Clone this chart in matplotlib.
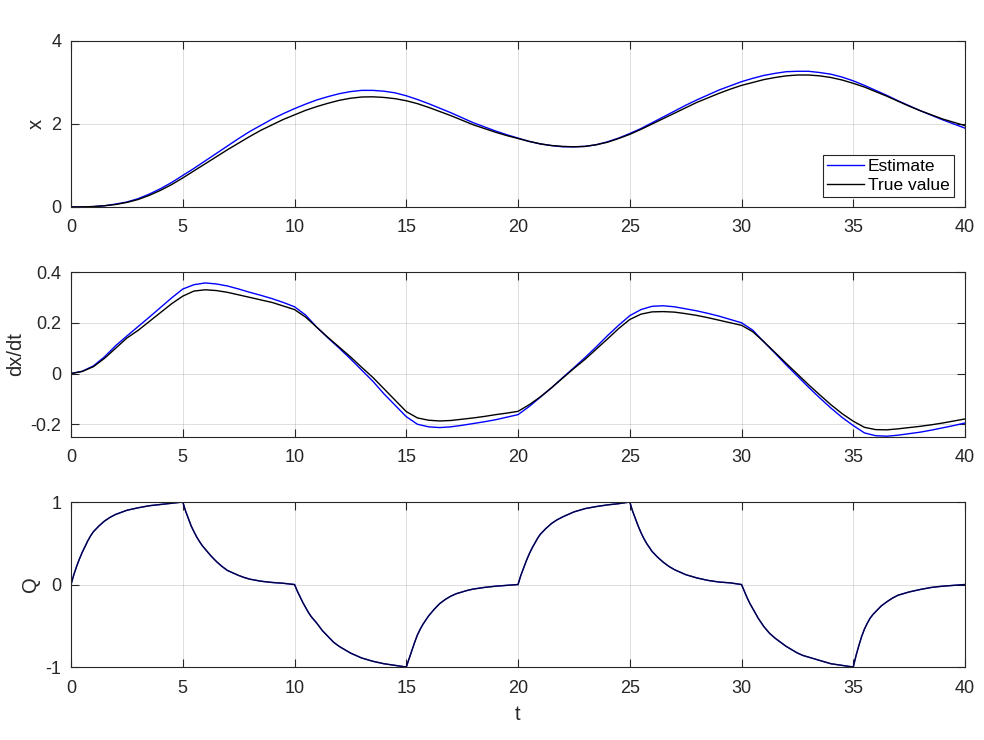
import numpy as np
import matplotlib
matplotlib.use('Agg')
import matplotlib.pyplot as plt

plt.rcParams['font.family'] = ['Liberation Sans', 'DejaVu Sans']
plt.rcParams['axes.unicode_minus'] = False

t_x = np.arange(0, 40.5, 0.5)
x_est = [0.0, 0.002, 0.01, 0.03, 0.07, 0.12, 0.20, 0.31, 0.44, 0.59,
         0.76, 0.93, 1.11, 1.29, 1.47, 1.65, 1.82, 1.97, 2.12, 2.25,
         2.37, 2.48, 2.58, 2.66, 2.73, 2.78, 2.81, 2.81, 2.79, 2.75,
         2.68, 2.59, 2.49, 2.38, 2.27, 2.15, 2.03, 1.93, 1.83, 1.74,
         1.66, 1.58, 1.52, 1.48, 1.45, 1.45, 1.46, 1.50, 1.57, 1.66,
         1.77, 1.89, 2.03, 2.17, 2.31, 2.45, 2.58, 2.70, 2.82, 2.92,
         3.02, 3.10, 3.17, 3.22, 3.26, 3.27, 3.27, 3.24, 3.20, 3.13,
         3.04, 2.93, 2.81, 2.69, 2.56, 2.44, 2.32, 2.21, 2.10, 2.00,
         1.90]
x_true = [0.0, 0.002, 0.01, 0.03, 0.06, 0.11, 0.18, 0.28, 0.40, 0.54,
          0.70, 0.87, 1.04, 1.21, 1.38, 1.54, 1.70, 1.85, 1.98, 2.11,
          2.22, 2.33, 2.42, 2.50, 2.57, 2.62, 2.65, 2.655, 2.64, 2.61,
          2.56, 2.49, 2.40, 2.30, 2.20, 2.09, 1.98, 1.89, 1.80, 1.72,
          1.65, 1.58, 1.52, 1.48, 1.46, 1.45, 1.46, 1.50, 1.56, 1.65,
          1.75, 1.87, 2.00, 2.13, 2.26, 2.39, 2.52, 2.63, 2.74, 2.84,
          2.93, 3.00, 3.07, 3.12, 3.16, 3.18, 3.18, 3.16, 3.12, 3.06,
          2.98, 2.89, 2.78, 2.67, 2.55, 2.43, 2.32, 2.22, 2.12, 2.04,
          1.96]

t_v = np.arange(0, 40.5, 0.5)
v_est = [0.0, 0.009, 0.03, 0.066, 0.11, 0.148, 0.185, 0.222, 0.26, 0.298,
         0.333, 0.35, 0.357, 0.353, 0.345, 0.333, 0.32, 0.308, 0.295, 0.28,
         0.263, 0.23, 0.182, 0.14, 0.1, 0.058, 0.014, -0.03, -0.08, -0.125,
         -0.17, -0.2, -0.21, -0.213, -0.21, -0.204, -0.197, -0.19, -0.182, -0.172,
         -0.162, -0.13, -0.093, -0.056, -0.016, 0.023, 0.063, 0.105, 0.149, 0.19,
         0.228, 0.252, 0.265, 0.267, 0.263, 0.255, 0.247, 0.237, 0.226, 0.213,
         0.2, 0.171, 0.125, 0.08, 0.034, -0.01, -0.054, -0.096, -0.136, -0.173,
         -0.205, -0.234, -0.245, -0.247, -0.243, -0.237, -0.231, -0.223, -0.214, -0.205,
         -0.195]
v_true = [0.0, 0.008, 0.027, 0.06, 0.10, 0.14, 0.17, 0.205, 0.24, 0.275,
          0.305, 0.325, 0.33, 0.327, 0.32, 0.31, 0.30, 0.29, 0.28, 0.266,
          0.252, 0.222, 0.182, 0.142, 0.104, 0.066, 0.025, -0.015, -0.06, -0.105,
          -0.15, -0.175, -0.184, -0.187, -0.185, -0.18, -0.175, -0.169, -0.162, -0.156,
          -0.149, -0.123, -0.092, -0.056, -0.018, 0.02, 0.056, 0.096, 0.136, 0.177,
          0.213, 0.234, 0.243, 0.244, 0.242, 0.236, 0.229, 0.22, 0.21, 0.2,
          0.19, 0.165, 0.125, 0.083, 0.04, -0.002, -0.044, -0.084, -0.123, -0.158,
          -0.188, -0.212, -0.221, -0.222, -0.218, -0.213, -0.208, -0.202, -0.195, -0.187,
          -0.179]

# Q, sampled more densely right after each switch
offs = [0, 0.125, 0.25, 0.375, 0.5, 0.625, 0.75, 0.875, 1, 1.25, 1.5, 1.75,
        2, 2.25, 2.5, 2.75, 3, 3.5, 4, 4.5]
t_q = [s + o for s in range(0, 40, 5) for o in offs] + [40]
q_est = [0.0, 0.12, 0.22, 0.31, 0.39, 0.46, 0.53, 0.59, 0.64, 0.71, 0.77, 0.815,
         0.85, 0.875, 0.90, 0.915, 0.93, 0.955, 0.97, 0.985,
         1.0, 0.89, 0.80, 0.71, 0.64, 0.575, 0.52, 0.47, 0.43, 0.35, 0.28, 0.22,
         0.17, 0.14, 0.11, 0.085, 0.065, 0.04, 0.025, 0.015,
         0.0, -0.08, -0.15, -0.22, -0.28, -0.34, -0.39, -0.43, -0.47, -0.56, -0.63, -0.70,
         -0.75, -0.79, -0.83, -0.86, -0.89, -0.93, -0.96, -0.98,
         -1.0, -0.90, -0.80, -0.70, -0.61, -0.54, -0.48, -0.43, -0.38, -0.30, -0.23, -0.18,
         -0.14, -0.11, -0.09, -0.07, -0.055, -0.035, -0.02, -0.01,
         0.0, 0.11, 0.20, 0.29, 0.37, 0.44, 0.50, 0.56, 0.61, 0.68, 0.74, 0.785,
         0.82, 0.85, 0.88, 0.90, 0.92, 0.945, 0.965, 0.98,
         1.0, 0.89, 0.80, 0.71, 0.63, 0.56, 0.50, 0.45, 0.40, 0.33, 0.27, 0.22,
         0.18, 0.15, 0.12, 0.10, 0.08, 0.05, 0.03, 0.02,
         0.0, -0.08, -0.16, -0.23, -0.29, -0.35, -0.41, -0.46, -0.51, -0.59, -0.65, -0.70,
         -0.75, -0.79, -0.83, -0.86, -0.88, -0.92, -0.96, -0.98,
         -1.0, -0.86, -0.74, -0.63, -0.54, -0.47, -0.41, -0.365, -0.33, -0.26, -0.21, -0.165,
         -0.13, -0.11, -0.09, -0.075, -0.06, -0.035, -0.02, -0.01,
         0.0]
q_true = list(q_est)

fig = plt.figure(figsize=(9.84, 7.4), dpi=100)
dark = (0.15, 0.15, 0.15)
boxes = [(0.0722, 0.7203, 0.9085, 0.2243),
         (0.0722, 0.4095, 0.9085, 0.2229),
         (0.0722, 0.0986, 0.9085, 0.2230)]
axs = [fig.add_axes(b) for b in boxes]

axs[0].plot(t_x, x_est, color='b', lw=1, label='Estimate')
axs[0].plot(t_x, x_true, color='k', lw=1, label='True value')
axs[0].set_ylim(0, 4)
axs[0].set_yticks([0, 2, 4])
axs[0].set_ylabel('x')
leg = axs[0].legend(loc='lower right', bbox_to_anchor=(0.9877, 0.06),
                    fontsize=12.5, fancybox=False, framealpha=1,
                    edgecolor=dark, borderaxespad=0, handlelength=2.1,
                    handletextpad=0.25, borderpad=0.25, labelspacing=0.2)
leg.get_frame().set_linewidth(0.8)

axs[1].plot(t_v, v_est, color='b', lw=1)
axs[1].plot(t_v, v_true, color='k', lw=1)
axs[1].set_ylim(-0.25, 0.4)
axs[1].set_yticks([-0.2, 0, 0.2, 0.4])
axs[1].set_yticklabels(['-0.2', '0', '0.2', '0.4'])
axs[1].set_ylabel('dx/dt')

axs[2].plot(t_q, q_est, color='b', lw=1)
axs[2].plot(t_q, q_true, color='k', lw=1, alpha=0.75)
axs[2].set_ylim(-1, 1)
axs[2].set_yticks([-1, 0, 1])
axs[2].set_ylabel('Q')
axs[2].set_xlabel('t', fontsize=14.5, labelpad=6)

for ax in axs:
    ax.set_xlim(0, 40)
    ax.set_xticks(range(0, 41, 5))
    ax.grid(True, color=(0.15, 0.15, 0.15), alpha=0.15, lw=0.7)
    ax.tick_params(direction='in', length=6, width=0.8, top=True, right=True,
                   labelsize=13, colors=dark)
    ax.tick_params(axis='x', pad=9)
    ax.tick_params(axis='y', pad=7)
    ax.yaxis.label.set_size(14.5)
    ax.yaxis.label.set_color(dark)
    ax.xaxis.label.set_color(dark)
    for sp in ax.spines.values():
        sp.set_color(dark)
        sp.set_linewidth(0.8)

fig.savefig('out.png', dpi=100)
